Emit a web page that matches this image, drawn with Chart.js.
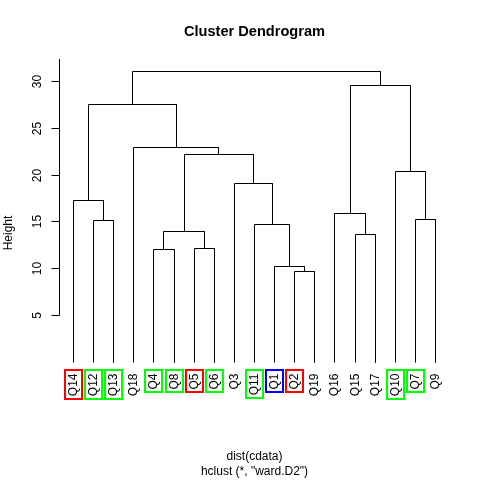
<!DOCTYPE html>
<html><head><meta charset="utf-8">
<script src="https://cdn.jsdelivr.net/npm/chart.js@4/dist/chart.umd.min.js"></script>
<style>html,body{margin:0;padding:0;background:#fff}#wrap{width:480px;height:480px;position:relative}</style>
</head><body><div id="wrap"><canvas id="c" width="480" height="480"></canvas></div>
<script>
// ---- data ----
const leafLabels = ['Q14','Q12','Q13','Q18','Q4','Q8','Q5','Q6','Q3','Q11','Q1','Q2','Q19','Q16','Q15','Q17','Q10','Q7','Q9'];
// merge steps: a leaf name or the (1-based) index of an earlier merge
const mergeLeft  = ['Q2','Q1','Q4','Q5','Q15',3,'Q11','Q12','Q7','Q16','Q14','Q3','Q10',6,'Q18',11,10,16];
const mergeRight = ['Q19',1,'Q8','Q6','Q17',4,2,'Q13','Q9',5,8,7,9,12,14,15,13,17];
const mergeHeights = [9.70,10.23,12.05,12.16,13.65,13.97,14.72,15.15,15.26,15.90,17.29,19.10,20.38,22.20,22.91,27.57,29.57,31.07];
const highlightRed   = ['Q14','Q5','Q2'];
const highlightGreen = ['Q12','Q13','Q4','Q8','Q6','Q11','Q10','Q7'];
const highlightBlue  = ['Q1'];
const yTicks = [5,10,15,20,25,30];
const titleText = 'Cluster Dendrogram';
const yTitle = 'Height';
const subLines = ['dist(cdata)', 'hclust (*, "ward.D2")'];

// ---- build segments from tree ----
const nodePos = {};
leafLabels.forEach((l,i)=>{ nodePos[l] = {x:i+1, h:0}; });
function getNode(k){ return typeof k === 'number' ? nodePos['m'+k] : nodePos[k]; }
const datasets = [];
mergeHeights.forEach((h,i)=>{
  const a = getNode(mergeLeft[i]), b = getNode(mergeRight[i]);
  nodePos['m'+(i+1)] = {x:(a.x+b.x)/2, h:h};
  datasets.push({
    data:[{x:a.x,y:a.h},{x:a.x,y:h},{x:b.x,y:h},{x:b.x,y:b.h}],
    showLine:true, borderColor:'#000', borderWidth:1, pointRadius:0, tension:0, fill:false
  });
});
const boxColor = {};
highlightRed.forEach(l=>boxColor[l]='#FF0000');
highlightGreen.forEach(l=>boxColor[l]='#00FF00');
highlightBlue.forEach(l=>boxColor[l]='#0000FF');

const snap = v => Math.floor(v) + 0.5;
// snap line vertices onto pixel centres so 1px strokes are crisp
const crisp = {
  id:'crisp',
  beforeDatasetsDraw(chart){
    chart.data.datasets.forEach((d,i)=>{
      chart.getDatasetMeta(i).data.forEach(p=>{ p.x = snap(p.x); p.y = snap(p.y); });
    });
  }
};

const FONT = '"Liberation Sans", Arial, sans-serif';
const decor = {
  id:'decor',
  afterDraw(chart){
    const ctx = chart.ctx, xs = chart.scales.x, ys = chart.scales.y, ca = chart.chartArea;
    ctx.save();
    ctx.fillStyle = '#000'; ctx.strokeStyle = '#000';
    const axX = snap(ca.left);
    ctx.lineWidth = 1;
    ctx.beginPath();
    ctx.moveTo(axX, snap(ys.getPixelForValue(yTicks[0])));
    ctx.lineTo(axX, ca.top);
    ctx.stroke();
    ctx.font = '12px ' + FONT;
    yTicks.forEach(t=>{
      const py = snap(ys.getPixelForValue(t));
      ctx.beginPath(); ctx.moveTo(axX-8, py); ctx.lineTo(axX, py); ctx.stroke();
      ctx.save();
      ctx.translate(axX - 21.5, py);
      ctx.rotate(-Math.PI/2);
      ctx.textAlign='center'; ctx.textBaseline='middle';
      ctx.fillText(String(t),0,0);
      ctx.restore();
    });
    ctx.save();
    ctx.translate(9, (ca.top+ca.bottom)/2);
    ctx.rotate(-Math.PI/2);
    ctx.textAlign='center'; ctx.textBaseline='middle';
    ctx.fillText(yTitle,0,0);
    ctx.restore();
    const labTop = ys.getPixelForValue(0) + 11;
    leafLabels.forEach((l,i)=>{
      const px = snap(xs.getPixelForValue(i+1));
      ctx.save();
      ctx.translate(px, labTop);
      ctx.rotate(-Math.PI/2);
      ctx.textAlign='right'; ctx.textBaseline='middle';
      ctx.fillStyle='#000';
      ctx.fillText(l,0,0);
      ctx.restore();
      if (boxColor[l]) {
        const w = ctx.measureText(l).width;
        ctx.strokeStyle = boxColor[l];
        ctx.lineWidth = 2;
        const bx = Math.round(px - 8.5), by = Math.round(labTop - 3.5);
        ctx.strokeRect(bx, by, 17, Math.round(w + 6));
      }
    });
    const cx = (ca.left + ca.right)/2;
    ctx.fillStyle='#000';
    ctx.font = 'bold 14.6px ' + FONT;
    ctx.textAlign='center'; ctx.textBaseline='middle';
    ctx.fillText(titleText, cx, 32);
    ctx.font = '12px ' + FONT;
    ctx.fillText(subLines[0], cx, 457);
    ctx.fillText(subLines[1], cx, 472);
    ctx.restore();
  }
};

new Chart(document.getElementById('c'), {
  type:'scatter',
  data:{datasets},
  options:{
    responsive:false, animation:false, devicePixelRatio:1,
    layout:{padding:{left:59, top:59, right:30, bottom:73}},
    plugins:{legend:{display:false}, tooltip:{enabled:false}, title:{display:false}},
    scales:{
      x:{type:'linear', min:0.28, max:19.72, display:false},
      y:{type:'linear', min:-4.75, max:32.38, display:false}
    },
    elements:{line:{borderCapStyle:'butt', borderJoinStyle:'miter'}}
  },
  plugins:[crisp, decor]
});
</script></body></html>
